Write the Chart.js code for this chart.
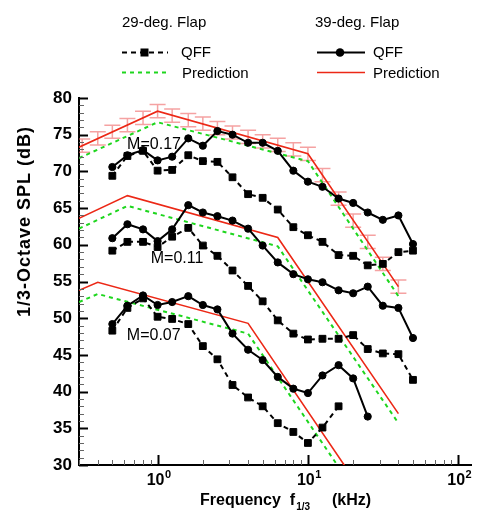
<!DOCTYPE html>
<html>
<head>
<meta charset="utf-8">
<script src="https://cdn.jsdelivr.net/npm/chart.js@4/dist/chart.umd.min.js"></script>
<style>
  html, body { margin: 0; padding: 0; background: #fff; }
  #wrap { width: 477px; height: 512px; position: relative; }
</style>
</head>
<body>
<div id="wrap"><canvas id="c" width="477" height="512"></canvas></div>
<script>
const FONT = '"Liberation Sans", Arial, Helvetica, sans-serif';

// 1/3-octave band centre frequencies (kHz)
const bandFreqs = [0.5, 0.63, 0.8, 1, 1.25, 1.6, 2, 2.5, 3.15, 4, 5, 6.3, 8, 10, 12.5, 16, 20, 25, 31.5, 40, 50];

// 39-deg flap, QFF measurements (dB)
const qff39_M017 = [70.6, 72.2, 72.9, 71.5, 72.0, 74.5, 73.5, 75.5, 75.0, 73.9, 73.9, 72.8, 70.1, 68.6, 67.9, 66.3, 65.7, 64.4, 63.4, 64.0, 60.1];
const qff39_M011 = [60.9, 62.8, 62.1, 60.5, 62.1, 65.4, 64.4, 63.9, 63.3, 62.2, 59.9, 57.6, 56.0, 55.3, 54.9, 53.8, 53.4, 54.3, 51.7, 51.4, 47.3];
const qff39_M007 = [49.2, 51.7, 53.1, 51.8, 52.2, 53.0, 51.8, 51.2, 47.9, 45.7, 44.3, 42.0, 40.4, 39.8, 42.2, 43.6, 41.8, 36.6];

// 29-deg flap, QFF measurements (dB)
const qff29_M017 = [69.4, 72.1, 72.8, 70.1, 70.2, 72.2, 71.4, 71.3, 69.2, 66.9, 66.4, 64.8, 62.4, 61.3, 60.4, 58.6, 58.5, 57.2, 57.4, 59.0, 59.2];
const qff29_M011 = [59.2, 60.4, 60.4, 59.7, 61.1, 62.3, 59.9, 58.5, 56.5, 54.4, 52.3, 49.7, 47.9, 47.1, 47.2, 47.2, 47.7, 45.8, 45.2, 45.1, 41.6];
const qff29_M007 = [48.3, 51.4, 52.7, 50.2, 49.9, 49.2, 46.2, 44.4, 40.9, 39.2, 38.0, 35.7, 34.5, 33.0, 35.1, 38.0];

// Prediction breakpoints (kHz, dB)
const predFreq_M017 = [0.3, 1, 10, 40];
const pred39_M017 = [73.3, 78.2, 72.4, 54.3];
const pred29_M017 = [71.8, 76.7, 71.4, 53.0];
const predFreq_M011 = [0.3, 0.63, 6.3, 40];
const pred39_M011 = [63.6, 66.7, 61.0, 37.0];
const pred29_M011 = [62.2, 65.3, 59.8, 35.7];
const predFreq_M007 = [0.3, 0.4, 4, 20];
const pred39_M007 = [53.8, 54.9, 49.3, 28.2];
const pred29_M007 = [52.2, 53.3, 47.9, 26.8];

// Uncertainty band on the 39-deg, M=0.17 prediction
const errFreqs = [0.315, 0.4, 0.5, 0.63, 0.8, 1, 1.25, 1.6, 2, 2.5, 3.15, 4, 5, 6.3, 8, 10, 12.5, 16, 20, 25, 31.5, 40];
const errCentre = [73.5, 74.5, 75.4, 76.3, 77.3, 78.2, 77.6, 77.0, 76.5, 75.9, 75.3, 74.7, 74.1, 73.6, 73.0, 72.4, 69.5, 66.3, 63.3, 60.4, 57.4, 54.3];
const errHalf = [0.9];

// Axis ticks
const yTickValues = [30, 35, 40, 45, 50, 55, 60, 65, 70, 75, 80];
const xDecades = [1, 10, 100];
const xDecadeExp = ['0', '1', '2'];

// Text
const machLabels = ['M=0.17', 'M=0.11', 'M=0.07'];
const legendGroups = ['29-deg. Flap', '39-deg. Flap'];
const legendItems = ['QFF', 'Prediction'];
const yTitle = '1/3-Octave SPL (dB)';
const xTitleMain = 'Frequency  f';
const xTitleSub = '1/3';
const xTitleUnit = '(kHz)';

const pts = (fs, vs) => vs.map((v, i) => ({ x: fs[i], y: v }));

const RED = 'rgb(236,40,22)';
const GREEN = 'rgb(30,214,30)';

const qff39 = (data) => ({
  data, borderColor: '#000', backgroundColor: '#000', borderWidth: 2,
  pointStyle: 'circle', pointRadius: 3.6, pointBorderWidth: 1,
  pointBorderColor: '#000', pointBackgroundColor: '#000', order: 0
});
const qff29 = (data) => ({
  data, borderColor: '#000', backgroundColor: '#000', borderWidth: 2,
  borderDash: [5, 4], pointStyle: 'rect', pointRadius: 4.8, pointBorderWidth: 1,
  pointBorderColor: '#000', pointBackgroundColor: '#000', order: 1
});
const pred39 = (data) => ({
  data, borderColor: RED, borderWidth: 1.6, pointRadius: 0, order: 2
});
const pred29 = (data) => ({
  data, borderColor: GREEN, borderWidth: 2, borderDash: [4, 4], pointRadius: 0, order: 3
});

// Inward tick marks, error bars, labels, legend and axis titles
const decorations = {
  id: 'decorations',
  beforeDatasetsDraw(chart) {
    const { ctx, chartArea: a, scales: { x, y } } = chart;
    ctx.save();
    ctx.beginPath();
    ctx.rect(a.left, a.top - 10, a.right - a.left, a.bottom - a.top + 10);
    ctx.clip();
    ctx.strokeStyle = 'rgba(238,100,100,0.6)';
    ctx.lineWidth = 1.5;
    errFreqs.forEach((f, i) => {
      const px = x.getPixelForValue(f);
      const top = y.getPixelForValue(errCentre[i] + errHalf[0]);
      const bot = y.getPixelForValue(errCentre[i] - errHalf[0]);
      ctx.beginPath();
      ctx.moveTo(px, top); ctx.lineTo(px, bot);
      ctx.moveTo(px - 8, top); ctx.lineTo(px + 8, top);
      ctx.moveTo(px - 8, bot); ctx.lineTo(px + 8, bot);
      ctx.stroke();
    });
    ctx.restore();
  },
  afterDraw(chart) {
    const { ctx, chartArea: a, scales: { x, y } } = chart;
    ctx.save();
    // y ticks: every 1 dB, major every 5 dB
    for (let v = 30; v <= 80; v++) {
      const py = Math.round(y.getPixelForValue(v)) + 0.5;
      const major = v % 5 === 0;
      ctx.strokeStyle = major ? '#000' : '#666';
      ctx.lineWidth = major ? 2 : 1;
      ctx.beginPath();
      ctx.moveTo(a.left, py);
      ctx.lineTo(a.left + (major ? 9 : 5), py);
      ctx.stroke();
    }
    // x ticks: decades and their 2..9 multiples
    [0.1, 1, 10, 100].forEach(d => {
      for (let k = 1; k <= 9; k++) {
        const f = d * k;
        if (f < x.min || f > x.max) continue;
        const px = Math.round(x.getPixelForValue(f)) + 0.5;
        const major = k === 1;
        ctx.strokeStyle = major ? '#000' : '#666';
        ctx.lineWidth = major ? 2 : 1;
        ctx.beginPath();
        ctx.moveTo(px, a.bottom);
        ctx.lineTo(px, a.bottom - (major ? 10 : 5));
        ctx.stroke();
      }
    });
    // x tick labels 10^n
    ctx.fillStyle = '#000';
    ctx.textBaseline = 'alphabetic';
    xDecades.forEach((d, i) => {
      const px = x.getPixelForValue(d);
      ctx.font = 'bold 16px ' + FONT;
      const w1 = ctx.measureText('10').width;
      ctx.font = 'bold 11px ' + FONT;
      const w2 = ctx.measureText(xDecadeExp[i]).width;
      const left = px - (w1 + w2) / 2 + 1;
      ctx.font = 'bold 16px ' + FONT;
      ctx.textAlign = 'left';
      ctx.fillText('10', left, 485);
      ctx.font = 'bold 11px ' + FONT;
      ctx.fillText(xDecadeExp[i], left + w1 + 0.5, 478);
    });
    // x title
    ctx.textAlign = 'left';
    ctx.font = 'bold 16px ' + FONT;
    ctx.fillText(xTitleMain, 200, 505);
    const wMain = ctx.measureText(xTitleMain).width;
    ctx.font = 'bold 10px ' + FONT;
    ctx.fillText(xTitleSub, 200 + wMain + 1, 510);
    ctx.font = 'bold 16px ' + FONT;
    ctx.fillText(xTitleUnit, 332, 505);
    // y title
    ctx.save();
    ctx.translate(25, 221.5);
    ctx.rotate(-Math.PI / 2);
    ctx.font = 'bold 18px ' + FONT;
    ctx.letterSpacing = '1px';
    ctx.textAlign = 'center';
    ctx.textBaseline = 'middle';
    ctx.fillText(yTitle, 0, 0);
    ctx.restore();
    // Mach number labels
    ctx.font = '16px ' + FONT;
    ctx.textAlign = 'left';
    ctx.textBaseline = 'alphabetic';
    ctx.fillText(machLabels[0], x.getPixelForValue(0.627), y.getPixelForValue(73.1));
    ctx.fillText(machLabels[1], x.getPixelForValue(0.90), y.getPixelForValue(57.55));
    ctx.fillText(machLabels[2], x.getPixelForValue(0.624), y.getPixelForValue(47.05));
    // legend
    ctx.font = '15px ' + FONT;
    ctx.fillText(legendGroups[0], 122, 27);
    ctx.fillText(legendGroups[1], 315, 27);
    ctx.fillText(legendItems[0], 181, 57);
    ctx.fillText(legendItems[1], 182, 77.5);
    ctx.fillText(legendItems[0], 373, 57);
    ctx.fillText(legendItems[1], 373, 77.5);
    // legend samples
    ctx.lineWidth = 2;
    ctx.strokeStyle = '#000';
    ctx.setLineDash([5, 4]);
    ctx.beginPath(); ctx.moveTo(122, 52.5); ctx.lineTo(168, 52.5); ctx.stroke();
    ctx.setLineDash([]);
    ctx.fillRect(140.5, 48.5, 8, 8);
    ctx.beginPath(); ctx.moveTo(317, 52.5); ctx.lineTo(365, 52.5); ctx.stroke();
    ctx.beginPath(); ctx.arc(340, 52.5, 4.3, 0, Math.PI * 2); ctx.fill();
    ctx.strokeStyle = GREEN;
    ctx.setLineDash([4, 4]);
    ctx.beginPath(); ctx.moveTo(122, 72.5); ctx.lineTo(168, 72.5); ctx.stroke();
    ctx.setLineDash([]);
    ctx.strokeStyle = RED;
    ctx.lineWidth = 1.6;
    ctx.beginPath(); ctx.moveTo(317, 72.5); ctx.lineTo(365, 72.5); ctx.stroke();
    ctx.restore();
  }
};

new Chart(document.getElementById('c'), {
  type: 'line',
  data: {
    datasets: [
      qff39(pts(bandFreqs, qff39_M017)),
      qff39(pts(bandFreqs, qff39_M011)),
      qff39(pts(bandFreqs, qff39_M007)),
      qff29(pts(bandFreqs, qff29_M017)),
      qff29(pts(bandFreqs, qff29_M011)),
      qff29(pts(bandFreqs, qff29_M007)),
      pred39(pts(predFreq_M017, pred39_M017)),
      pred39(pts(predFreq_M011, pred39_M011)),
      pred39(pts(predFreq_M007, pred39_M007)),
      pred29(pts(predFreq_M017, pred29_M017)),
      pred29(pts(predFreq_M011, pred29_M011)),
      pred29(pts(predFreq_M007, pred29_M007))
    ]
  },
  options: {
    responsive: false,
    animation: false,
    devicePixelRatio: 1,
    layout: { padding: { top: 98, right: 0, bottom: 0, left: 0 } },
    plugins: { legend: { display: false }, tooltip: { enabled: false } },
    elements: { line: { tension: 0, fill: false } },
    scales: {
      x: {
        type: 'logarithmic', min: 0.305, max: 122,
        afterFit(s) { s.height = 47; },
        ticks: { display: false },
        grid: { display: false, drawTicks: false },
        border: { display: true, color: '#000', width: 2 }
      },
      y: {
        type: 'linear', min: 30, max: 80,
        afterFit(s) { s.width = 79; },
        afterBuildTicks(s) { s.ticks = yTickValues.map(v => ({ value: v })); },
        ticks: { font: { family: FONT, size: 17, weight: 'bold' }, color: '#000', padding: 7 },
        grid: { display: false, drawTicks: false },
        border: { display: true, color: '#000', width: 2 }
      }
    }
  },
  plugins: [decorations]
});
</script>
</body>
</html>
